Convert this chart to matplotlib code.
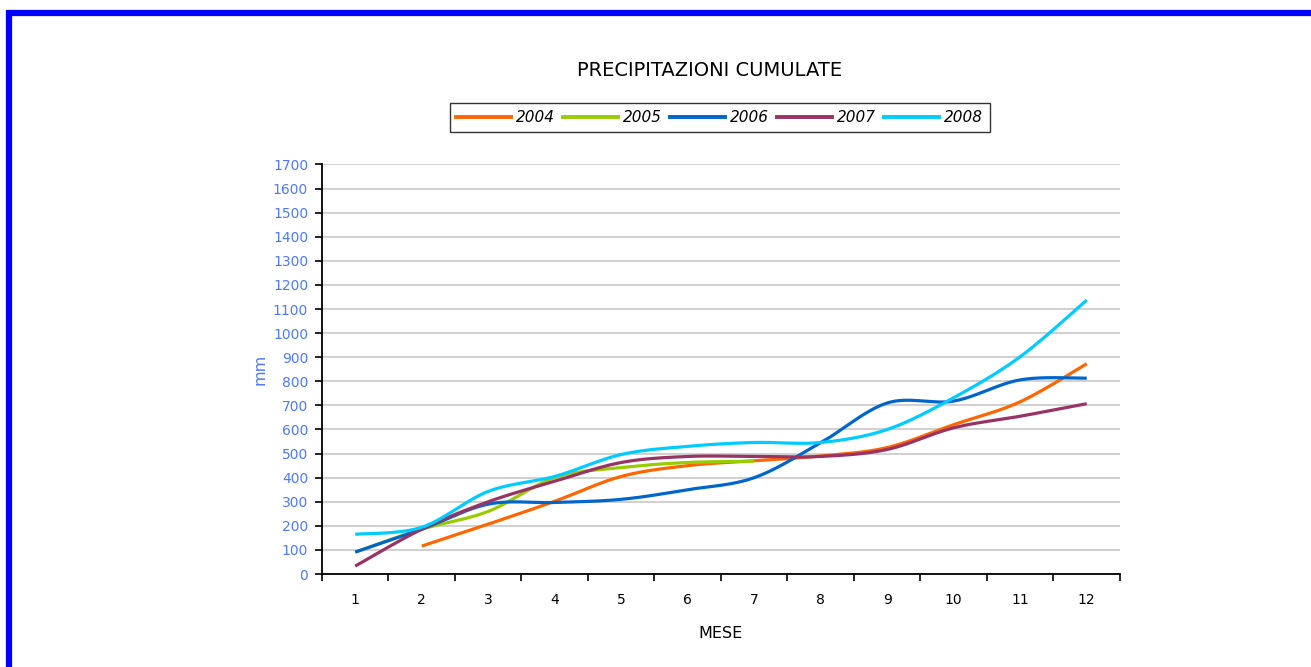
import matplotlib.pyplot as plt
import numpy as np
from matplotlib.lines import Line2D

# dati: precipitazioni cumulate (mm) per mese
mesi = list(range(1, 13))
anni = ["2004", "2005", "2006", "2007", "2008"]
p2004 = [None, 116, 207, 302, 405, 450, 470, 490, 525, 620, 715, 873]
p2005 = [91, 186, 260, 400, 442, 463, 468, None, None, None, None, None]
p2006 = [91, 186, 290, 297, 310, 350, 400, 545, 710, 718, 806, 813]
p2007 = [33, 186, 300, 385, 463, 488, 488, 488, 517, 607, 655, 707]
p2008 = [165, 194, 343, 405, 496, 530, 546, 546, 600, 732, 902, 1137]
colori = ["#FF6600", "#99CC00", "#0066CC", "#993366", "#00CCFF"]

blu_testo = "#4D79FF"


# curva liscia (bezier tipo catmull-rom) tra i punti
def liscia(x, y, n=24):
    x = np.asarray(x, float)
    y = np.asarray(y, float)
    xs, ys = [], []
    for i in range(len(x) - 1):
        p0 = np.array([x[max(i - 1, 0)], y[max(i - 1, 0)]])
        p1 = np.array([x[i], y[i]])
        p2 = np.array([x[i + 1], y[i + 1]])
        p3 = np.array([x[min(i + 2, len(x) - 1)], y[min(i + 2, len(x) - 1)]])
        c1 = p1 + (p2 - p0) / 6
        c2 = p2 - (p3 - p1) / 6
        t = np.linspace(0, 1, n)[:, None]
        b = ((1 - t) ** 3) * p1 + 3 * ((1 - t) ** 2) * t * c1 + 3 * (1 - t) * t ** 2 * c2 + t ** 3 * p2
        xs.extend(b[:, 0])
        ys.extend(b[:, 1])
    return xs, ys


fig = plt.figure(figsize=(13.11, 6.67), dpi=100)
ax = fig.add_axes([0.2456, 0.1394, 0.6087, 0.614])

serie = [p2004, p2005, p2006, p2007, p2008]
for anno, valori, col in zip(anni, serie, colori):
    pts = [(m, v) for m, v in zip(mesi, valori) if v is not None]
    xs, ys = liscia([p[0] for p in pts], [p[1] for p in pts])
    ax.plot(xs, ys, color=col, lw=2.3, solid_capstyle="butt", label=anno)

ax.set_xlim(0.5, 12.5)
ax.set_ylim(0, 1700)
ax.set_yticks(np.arange(0, 1701, 100))
ax.yaxis.grid(True, color="#C8C8C8", lw=1.2)
ax.set_axisbelow(True)

# tacche sui bordi delle categorie, etichette al centro
ax.set_xticks(np.arange(0.5, 12.6, 1))
ax.set_xticklabels([])
ax.set_xticks(mesi, minor=True)
ax.set_xticklabels([str(m) for m in mesi], minor=True, fontsize=10)
ax.tick_params(axis="x", which="minor", length=0, pad=14)
ax.tick_params(axis="x", which="major", length=5, width=1.2, direction="out")
ax.tick_params(axis="y", length=5, width=1.2, direction="out", labelsize=10,
               labelcolor=blu_testo, pad=5)

for s in ["top", "right"]:
    ax.spines[s].set_visible(False)
for s in ["left", "bottom"]:
    ax.spines[s].set_linewidth(1.3)
    ax.spines[s].set_color("black")

ax.set_xlabel("MESE", fontsize=11.5, labelpad=13)
ax.set_ylabel("mm", fontsize=11.5, color=blu_testo, labelpad=4)

fig.text(0.5416, 0.894, "PRECIPITAZIONI CUMULATE", ha="center", va="center",
         fontsize=14)

maniglie = [Line2D([], [], color=c, lw=2.8) for c in colori]
leg = fig.legend(maniglie, anni, loc="center", bbox_to_anchor=(0.549, 0.824),
                 ncol=5, frameon=True, fancybox=False, edgecolor="black",
                 handlelength=3.6, handletextpad=0.3, columnspacing=0.55,
                 borderpad=0.45, prop={"style": "italic", "size": 11})
leg.get_frame().set_linewidth(1.0)

# cornice blu in alto e a sinistra
fig.add_artist(Line2D([6 / 1311, 1], [1 - 13 / 667, 1 - 13 / 667], color="#0000FF",
                      lw=4.5, solid_capstyle="butt"))
fig.add_artist(Line2D([9 / 1311, 9 / 1311], [0, 1 - 10 / 667], color="#0000FF",
                      lw=4.5, solid_capstyle="butt"))

fig.savefig("out.png", dpi=100)
